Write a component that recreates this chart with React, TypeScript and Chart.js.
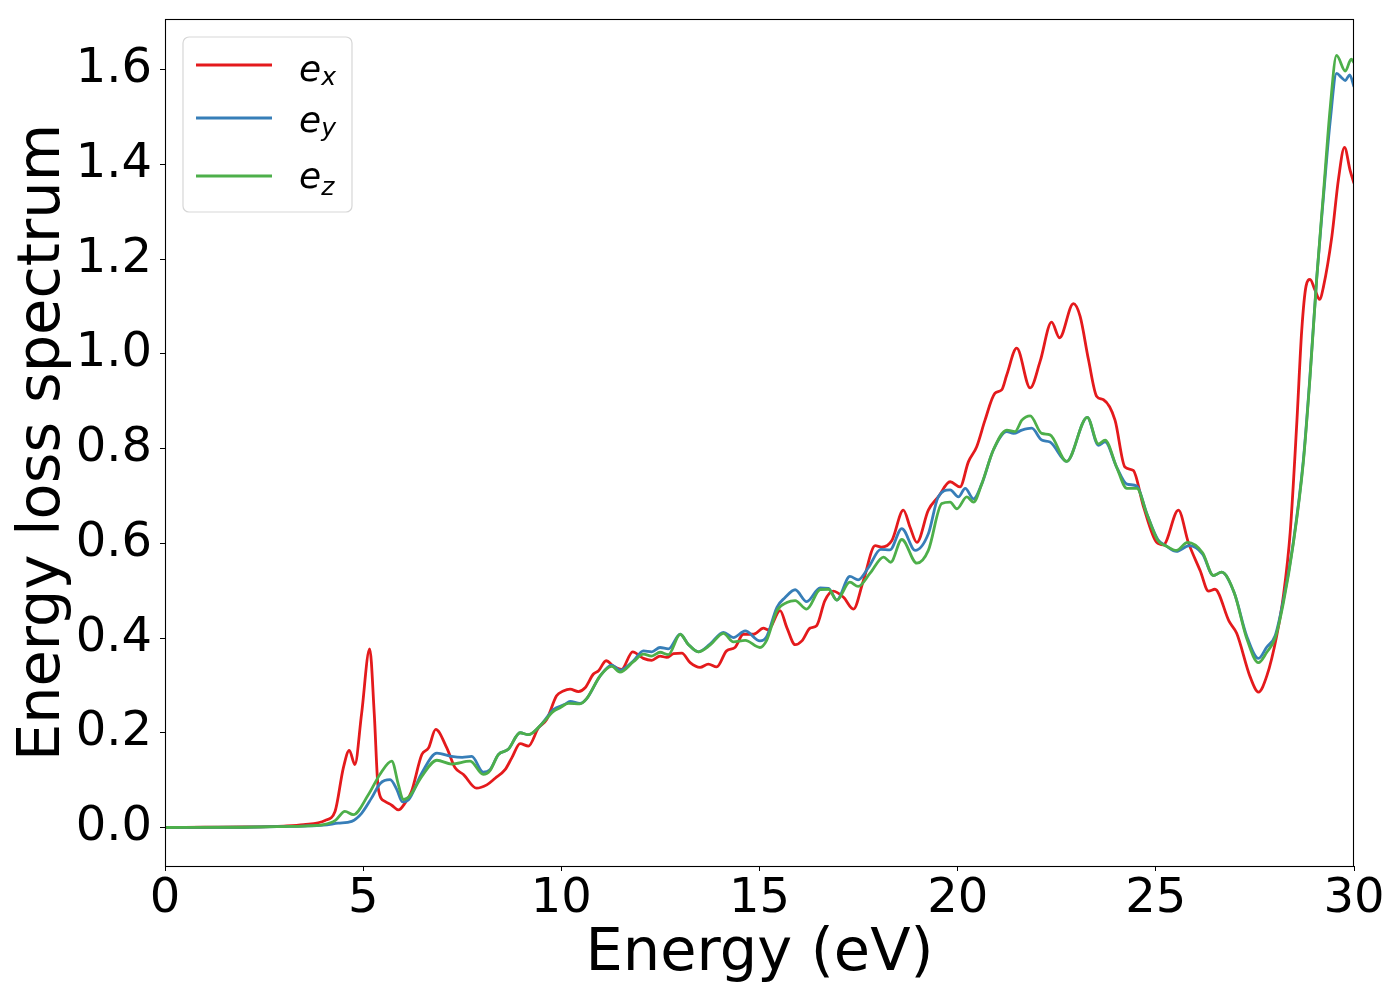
import React, { useEffect, useRef } from "react";
import { Chart, registerables } from "chart.js";

Chart.register(...registerables);

// ---------------- data ----------------
const xTicks = [0, 5, 10, 15, 20, 25, 30];
const yTicks = [0.0, 0.2, 0.4, 0.6, 0.8, 1.0, 1.2, 1.4, 1.6];

const seriesLabels = ["e_x", "e_y", "e_z"];
const seriesColors = ["#e41a1c", "#377eb8", "#4daf4a"];

const exEnergy = [0, 1, 2, 3, 3.5, 4.04, 4.29, 4.5, 4.65, 4.79, 4.96, 5.165, 5.28, 5.38, 5.55, 5.72, 5.89, 6.06, 6.22, 6.48, 6.65, 6.83, 7.11, 7.32, 7.53, 7.86, 8.12, 8.33, 8.58, 8.75, 8.96, 9.17, 9.42, 9.63, 9.88, 10.05, 10.22, 10.43, 10.6, 10.81, 10.94, 11.13, 11.31, 11.52, 11.8, 12.07, 12.28, 12.49, 12.66, 12.83, 13.04, 13.25, 13.5, 13.71, 13.92, 14.17, 14.38, 14.59, 14.85, 15.1, 15.22, 15.52, 15.69, 15.9, 16.07, 16.28, 16.44, 16.65, 16.86, 17.12, 17.37, 17.62, 17.92, 18.08, 18.34, 18.63, 18.8, 18.97, 19.26, 19.51, 19.81, 20.06, 20.27, 20.48, 20.69, 20.94, 21.11, 21.24, 21.49, 21.83, 22.08, 22.37, 22.57, 22.92, 23.09, 23.3, 23.51, 23.68, 23.97, 24.22, 24.43, 24.69, 25.02, 25.19, 25.57, 25.82, 26.12, 26.33, 26.49, 26.85, 27.04, 27.38, 27.59, 27.8, 28.05, 28.22, 28.39, 28.56, 28.68, 28.79, 28.89, 29.02, 29.13, 29.23, 29.44, 29.61, 29.76, 29.9, 30];
const exValues = [0, 0.0005, 0.001, 0.003, 0.006, 0.015, 0.034, 0.126, 0.163, 0.133, 0.24, 0.377, 0.24, 0.083, 0.055, 0.047, 0.037, 0.052, 0.076, 0.154, 0.168, 0.207, 0.168, 0.126, 0.112, 0.083, 0.09, 0.104, 0.122, 0.147, 0.177, 0.172, 0.21, 0.228, 0.278, 0.288, 0.292, 0.287, 0.295, 0.324, 0.331, 0.352, 0.341, 0.334, 0.371, 0.357, 0.353, 0.362, 0.359, 0.367, 0.368, 0.348, 0.338, 0.345, 0.339, 0.373, 0.38, 0.408, 0.408, 0.421, 0.417, 0.458, 0.422, 0.386, 0.394, 0.421, 0.426, 0.479, 0.499, 0.486, 0.461, 0.521, 0.595, 0.592, 0.606, 0.67, 0.634, 0.602, 0.67, 0.698, 0.73, 0.719, 0.772, 0.804, 0.86, 0.917, 0.924, 0.956, 1.012, 0.928, 0.984, 1.067, 1.034, 1.106, 1.079, 0.988, 0.91, 0.903, 0.86, 0.761, 0.754, 0.677, 0.602, 0.597, 0.67, 0.602, 0.542, 0.499, 0.503, 0.435, 0.41, 0.318, 0.286, 0.32, 0.405, 0.49, 0.623, 0.859, 1.048, 1.143, 1.157, 1.134, 1.115, 1.142, 1.247, 1.37, 1.436, 1.388, 1.36];

const eyEnergy = [0, 2, 3, 3.5, 4.0, 4.37, 4.71, 4.96, 5.21, 5.43, 5.68, 5.85, 5.99, 6.14, 6.48, 6.86, 7.23, 7.5, 7.74, 8.03, 8.2, 8.41, 8.66, 8.96, 9.17, 9.5, 9.8, 10.09, 10.22, 10.47, 10.64, 10.98, 11.27, 11.48, 11.82, 12.07, 12.28, 12.49, 12.7, 13.0, 13.2, 13.46, 13.75, 14.09, 14.34, 14.64, 15.01, 15.18, 15.44, 15.64, 15.9, 16.19, 16.53, 16.74, 16.95, 17.28, 17.49, 17.75, 18.06, 18.29, 18.59, 18.93, 19.26, 19.51, 19.81, 20.02, 20.19, 20.4, 20.61, 20.9, 21.24, 21.41, 21.62, 21.87, 22.12, 22.33, 22.75, 23.27, 23.55, 23.72, 24.01, 24.27, 24.52, 24.77, 25.05, 25.27, 25.52, 25.84, 26.18, 26.45, 26.66, 26.98, 27.29, 27.59, 27.8, 28.01, 28.22, 28.47, 28.72, 28.89, 29.06, 29.23, 29.4, 29.56, 29.69, 29.78, 29.89, 30];
const eyValues = [0, 0.0005, 0.002, 0.003, 0.005, 0.009, 0.013, 0.03, 0.062, 0.093, 0.101, 0.08, 0.054, 0.058, 0.115, 0.157, 0.15, 0.148, 0.15, 0.117, 0.122, 0.154, 0.165, 0.2, 0.196, 0.218, 0.249, 0.26, 0.266, 0.262, 0.272, 0.32, 0.343, 0.332, 0.352, 0.373, 0.371, 0.38, 0.377, 0.408, 0.387, 0.371, 0.387, 0.412, 0.401, 0.415, 0.394, 0.403, 0.465, 0.485, 0.502, 0.477, 0.506, 0.505, 0.48, 0.53, 0.523, 0.549, 0.587, 0.586, 0.631, 0.585, 0.62, 0.698, 0.713, 0.698, 0.716, 0.694, 0.726, 0.797, 0.836, 0.832, 0.839, 0.843, 0.818, 0.814, 0.773, 0.866, 0.807, 0.814, 0.761, 0.725, 0.721, 0.663, 0.608, 0.594, 0.583, 0.595, 0.577, 0.532, 0.539, 0.495, 0.405, 0.357, 0.381, 0.405, 0.481, 0.603, 0.774, 0.954, 1.161, 1.332, 1.492, 1.592, 1.583, 1.577, 1.589, 1.564];

const ezEnergy = [0, 2, 3, 3.5, 4.0, 4.3, 4.54, 4.75, 5.13, 5.43, 5.72, 5.89, 6.01, 6.17, 6.48, 6.86, 7.23, 7.7, 8.03, 8.2, 8.41, 8.66, 8.96, 9.17, 9.5, 9.8, 9.97, 10.18, 10.47, 10.64, 10.98, 11.27, 11.48, 11.82, 12.07, 12.28, 12.49, 12.7, 13.0, 13.2, 13.46, 13.75, 14.09, 14.34, 14.64, 15.01, 15.18, 15.44, 15.69, 15.9, 16.19, 16.53, 16.74, 16.95, 17.28, 17.49, 17.79, 18.13, 18.31, 18.59, 18.97, 19.26, 19.6, 19.81, 19.98, 20.23, 20.4, 20.61, 20.9, 21.24, 21.45, 21.62, 21.83, 22.12, 22.33, 22.75, 23.27, 23.55, 23.72, 24.01, 24.27, 24.52, 24.77, 25.05, 25.27, 25.52, 25.8, 26.18, 26.45, 26.66, 26.98, 27.29, 27.59, 27.8, 28.01, 28.22, 28.47, 28.72, 28.89, 29.06, 29.23, 29.4, 29.56, 29.78, 29.93, 30];
const ezValues = [0, 0.0005, 0.002, 0.003, 0.006, 0.015, 0.034, 0.027, 0.069, 0.113, 0.14, 0.09, 0.059, 0.066, 0.108, 0.142, 0.134, 0.14, 0.112, 0.12, 0.154, 0.165, 0.2, 0.196, 0.218, 0.245, 0.253, 0.262, 0.261, 0.272, 0.32, 0.34, 0.328, 0.35, 0.366, 0.362, 0.37, 0.365, 0.408, 0.387, 0.371, 0.385, 0.41, 0.392, 0.395, 0.38, 0.395, 0.458, 0.475, 0.479, 0.461, 0.502, 0.503, 0.48, 0.518, 0.509, 0.537, 0.571, 0.56, 0.608, 0.558, 0.585, 0.684, 0.687, 0.673, 0.698, 0.687, 0.726, 0.797, 0.839, 0.836, 0.86, 0.869, 0.832, 0.829, 0.773, 0.866, 0.81, 0.818, 0.761, 0.716, 0.716, 0.663, 0.606, 0.594, 0.585, 0.602, 0.58, 0.532, 0.539, 0.495, 0.4, 0.348, 0.37, 0.4, 0.475, 0.6, 0.77, 0.95, 1.16, 1.34, 1.52, 1.63, 1.597, 1.622, 1.615];

const seriesEnergy = [exEnergy, eyEnergy, ezEnergy];
const seriesValues = [exValues, eyValues, ezValues];

const xLabel = "Energy (eV)";
const yLabel = "Energy loss spectrum";

// ---------------- plugins ----------------
const framePlugin = {
  id: "frame",
  afterDraw(chart: any) {
    const { ctx, chartArea } = chart;
    ctx.save();
    ctx.strokeStyle = "#000";
    ctx.lineWidth = 1.1;
    ctx.strokeRect(
      Math.round(chartArea.left) + 0.5,
      Math.round(chartArea.top) + 0.5,
      Math.round(chartArea.right - chartArea.left) - 1,
      Math.round(chartArea.bottom - chartArea.top)
    );
    ctx.restore();
  },
};

const mathLegendPlugin = {
  id: "mathLegend",
  afterDraw(chart: any) {
    const { ctx, chartArea } = chart;
    const bx = chartArea.left + 18;
    const by = chartArea.top + 18;
    const bw = 169;
    const bh = 175;
    const r = 6;
    ctx.save();
    ctx.beginPath();
    ctx.moveTo(bx + r, by);
    ctx.lineTo(bx + bw - r, by);
    ctx.arcTo(bx + bw, by, bx + bw, by + r, r);
    ctx.lineTo(bx + bw, by + bh - r);
    ctx.arcTo(bx + bw, by + bh, bx + bw - r, by + bh, r);
    ctx.lineTo(bx + r, by + bh);
    ctx.arcTo(bx, by + bh, bx, by + bh - r, r);
    ctx.lineTo(bx, by + r);
    ctx.arcTo(bx, by, bx + r, by, r);
    ctx.closePath();
    ctx.fillStyle = "rgba(255,255,255,0.8)";
    ctx.fill();
    ctx.strokeStyle = "rgba(204,204,204,0.8)";
    ctx.lineWidth = 1.2;
    ctx.stroke();

    const lineRows = [28, 81, 139];
    const textRows = [44, 95, 151];
    const subDrop = [4, 4, 7];
    chart.data.datasets.forEach((ds: any, i: number) => {
      const ly = by + lineRows[i];
      ctx.beginPath();
      ctx.strokeStyle = ds.borderColor;
      ctx.lineWidth = 2.8;
      ctx.moveTo(bx + 13, ly);
      ctx.lineTo(bx + 89, ly);
      ctx.stroke();
      const [base, sub] = String(ds.label).split("_");
      ctx.fillStyle = "#000";
      ctx.textBaseline = "alphabetic";
      ctx.textAlign = "left";
      ctx.font = 'italic 36px "DejaVu Sans"';
      const tx = bx + 116;
      const ty = by + textRows[i];
      ctx.fillText(base, tx, ty);
      const w = ctx.measureText(base).width;
      ctx.font = 'italic 25px "DejaVu Sans"';
      ctx.fillText(sub, tx + w, ty + subDrop[i]);
    });
    ctx.restore();
  },
};

// ---------------- component ----------------
export default function App() {
  const canvasRef = useRef<HTMLCanvasElement | null>(null);

  useEffect(() => {
    if (!canvasRef.current) return;
    Chart.defaults.font.family = '"DejaVu Sans"';
    Chart.defaults.color = "#000";

    const datasets = seriesLabels.map((label, i) => ({
      label,
      data: seriesEnergy[i].map((x, j) => ({ x, y: seriesValues[i][j] })),
      borderColor: seriesColors[i],
      backgroundColor: seriesColors[i],
      borderWidth: 2.8,
      pointRadius: 0,
      cubicInterpolationMode: "monotone" as const,
      fill: false,
      order: 3 - i,
    }));

    const tickFont = { size: 48, family: '"DejaVu Sans"' };

    const chart = new Chart(canvasRef.current, {
      type: "line",
      data: { datasets },
      options: {
        animation: false,
        responsive: false,
        devicePixelRatio: 1,
        layout: { padding: { top: 19, right: 46, bottom: 0, left: 0 } },
        plugins: {
          legend: { display: false },
          tooltip: { enabled: false },
        },
        scales: {
          x: {
            type: "linear",
            min: 0,
            max: 30,
            afterBuildTicks: (s: any) => {
              s.ticks = xTicks.map((v) => ({ value: v }));
            },
            afterFit: (s: any) => {
              s.height = 134;
              s.paddingLeft = 0;
              s.paddingRight = 0;
            },
            ticks: {
              font: tickFont,
              color: "#000",
              padding: 0,
              maxRotation: 0,
              autoSkip: false,
              callback: (v: any) => String(v),
            },
            grid: {
              display: true,
              drawOnChartArea: false,
              drawTicks: true,
              tickLength: 5,
              color: "#000",
              lineWidth: 1,
            },
            border: { display: true, color: "#000", width: 1 },
            title: {
              display: true,
              text: xLabel,
              color: "#000",
              font: { size: 59, family: '"DejaVu Sans"' },
              padding: { top: 0, bottom: 10 },
            },
          },
          y: {
            type: "linear",
            min: -0.0813,
            max: 1.707,
            afterBuildTicks: (s: any) => {
              s.ticks = yTicks.map((v) => ({ value: v }));
            },
            afterFit: (s: any) => {
              s.width = 165;
              s.paddingTop = 0;
              s.paddingBottom = 0;
            },
            ticks: {
              font: tickFont,
              color: "#000",
              padding: 8,
              autoSkip: false,
              callback: (v: any) => Number(v).toFixed(1),
            },
            grid: {
              display: true,
              drawOnChartArea: false,
              drawTicks: true,
              tickLength: 5,
              color: "#000",
              lineWidth: 1,
            },
            border: { display: true, color: "#000", width: 1 },
            title: {
              display: true,
              text: yLabel,
              color: "#000",
              font: { size: 59, family: '"DejaVu Sans"' },
              padding: { top: 8, bottom: 0 },
            },
          },
        },
      },
      plugins: [framePlugin, mathLegendPlugin],
    });

    return () => chart.destroy();
  }, []);

  return (
    <div style={{ position: "absolute", left: 0, top: 0, width: 1400, height: 1000, background: "#fff" }}>
      <canvas ref={canvasRef} width={1400} height={1000} />
    </div>
  );
}
